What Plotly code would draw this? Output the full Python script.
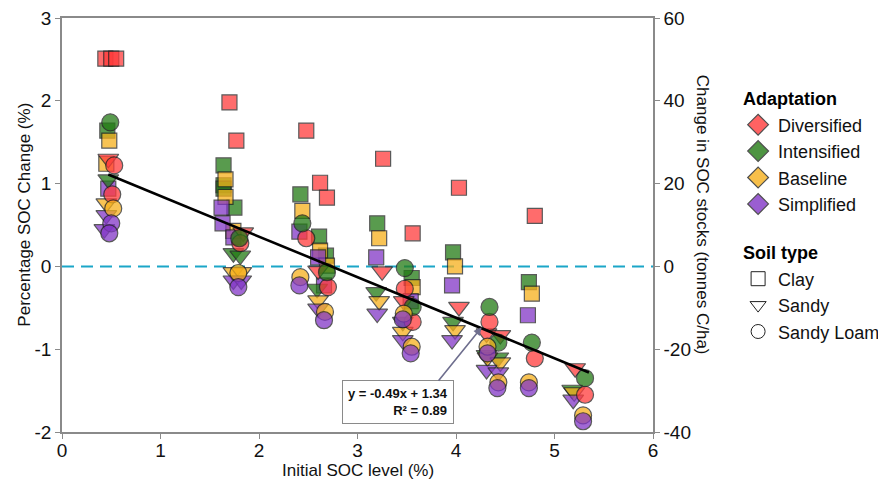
import numpy as np
import plotly.graph_objects as go

# ---- data: initial SOC (%) and percentage SOC change, by adaptation and soil type ----
div_clay_x = [0.44, 0.50, 0.55, 1.70, 1.77, 2.48, 2.62, 2.69, 3.26, 3.56, 4.03, 4.80]
div_clay_y = [2.51, 2.51, 2.51, 1.98, 1.52, 1.64, 1.01, 0.83, 1.30, 0.40, 0.95, 0.61]
div_sandy_x = [0.47, 1.84, 2.60, 3.25, 3.47, 4.03, 4.31, 4.45, 5.21]
div_sandy_y = [1.30, 0.41, -0.05, -0.06, -0.42, -0.49, -0.81, -0.83, -1.23]
div_loam_x = [0.53, 0.51, 1.81, 2.48, 2.70, 3.48, 3.56, 4.34, 4.80, 5.31]
div_loam_y = [1.22, 0.87, 0.28, 0.34, -0.25, -0.27, -0.67, -0.67, -1.11, -1.55]

int_clay_x = [0.46, 1.64, 1.64, 1.64, 1.75, 2.42, 2.61, 2.68, 3.20, 3.55, 3.97, 4.74]
int_clay_y = [1.64, 1.22, 0.98, 0.94, 0.71, 0.87, 0.36, 0.13, 0.52, -0.14, 0.17, -0.19]
int_sandy_x = [0.47, 1.74, 1.81, 2.59, 3.19, 3.46, 3.97, 4.31, 4.43, 5.18]
int_sandy_y = [1.05, 0.16, 0.13, -0.27, -0.31, -0.67, -0.67, -1.07, -1.10, -1.49]
int_loam_x = [0.49, 1.80, 2.44, 2.69, 3.48, 3.56, 4.34, 4.43, 4.77, 5.31]
int_loam_y = [1.74, 0.34, 0.52, -0.07, -0.02, -0.49, -0.49, -0.92, -0.92, -1.35]

base_clay_x = [0.48, 0.45, 1.66, 1.66, 1.74, 2.44, 2.62, 2.69, 3.22, 3.56, 3.99, 4.77]
base_clay_y = [1.52, 1.24, 1.05, 0.84, 0.43, 0.67, 0.19, 0.01, 0.34, -0.25, 0.00, -0.33]
base_sandy_x = [0.45, 1.74, 1.82, 2.60, 3.22, 3.46, 3.99, 4.32, 4.45, 5.20]
base_sandy_y = [0.76, -0.07, -0.07, -0.41, -0.42, -0.79, -0.77, -1.10, -1.16, -1.52]
base_loam_x = [0.52, 1.79, 2.42, 2.67, 3.47, 3.55, 4.32, 4.43, 4.74, 5.29]
base_loam_y = [0.70, -0.08, -0.13, -0.55, -0.57, -0.97, -0.97, -1.40, -1.40, -1.80]

simp_clay_x = [0.47, 1.62, 1.63, 1.74, 2.41, 2.60, 2.66, 3.19, 3.54, 3.96, 4.73]
simp_clay_y = [0.94, 0.71, 0.52, 0.35, 0.42, 0.11, -0.23, 0.11, -0.42, -0.23, -0.59]
simp_sandy_x = [0.45, 0.43, 1.74, 1.82, 2.60, 3.20, 3.46, 3.96, 4.31, 4.43, 5.19]
simp_sandy_y = [0.62, 0.45, -0.17, -0.17, -0.51, -0.57, -0.89, -0.89, -1.25, -1.28, -1.61]
simp_loam_x = [0.50, 0.48, 1.79, 2.41, 2.66, 3.46, 3.54, 4.32, 4.42, 4.74, 5.29]
simp_loam_y = [0.52, 0.40, -0.25, -0.23, -0.65, -0.64, -1.05, -1.05, -1.47, -1.47, -1.87]

adaptations = ["Diversified", "Intensified", "Baseline", "Simplified"]
soil_types = ["Clay", "Sandy", "Sandy Loam"]

x_ticks = [0, 1, 2, 3, 4, 5, 6]
y_ticks = [-2, -1, 0, 1, 2, 3]
y2_ticks = [-40, -20, 0, 20, 40, 60]

# linear fit reported on the chart
fit_slope = -0.49
fit_intercept = 1.34
fit_r2 = 0.89
fit_x_range = [0.47, 5.35]

# ---- styling ----
colors = {"Diversified": "#FF3B3B", "Intensified": "#227A14",
          "Baseline": "#F6B01C", "Simplified": "#8236C6"}
symbols = {"Clay": "square", "Sandy": "triangle-down", "Sandy Loam": "circle"}
sizes = {"Clay": 15, "Sandy": 18, "Sandy Loam": 17}
FONT = "Liberation Sans, Arial, sans-serif"
AXIS_GREY = "#8a8a8a"

series = {
    ("Diversified", "Clay"): (div_clay_x, div_clay_y),
    ("Diversified", "Sandy"): (div_sandy_x, div_sandy_y),
    ("Diversified", "Sandy Loam"): (div_loam_x, div_loam_y),
    ("Intensified", "Clay"): (int_clay_x, int_clay_y),
    ("Intensified", "Sandy"): (int_sandy_x, int_sandy_y),
    ("Intensified", "Sandy Loam"): (int_loam_x, int_loam_y),
    ("Baseline", "Clay"): (base_clay_x, base_clay_y),
    ("Baseline", "Sandy"): (base_sandy_x, base_sandy_y),
    ("Baseline", "Sandy Loam"): (base_loam_x, base_loam_y),
    ("Simplified", "Clay"): (simp_clay_x, simp_clay_y),
    ("Simplified", "Sandy"): (simp_sandy_x, simp_sandy_y),
    ("Simplified", "Sandy Loam"): (simp_loam_x, simp_loam_y),
}


def tick_text(vals):
    # plain hyphen-minus for negative labels
    return [str(v) for v in vals]


fig = go.Figure()

# zero reference line
fig.add_trace(go.Scatter(x=[0, 6], y=[0, 0], mode="lines",
                         line=dict(color="#1BA6C8", width=2, dash="12px,7px"),
                         showlegend=False, hoverinfo="skip"))

for soil in soil_types:
    for ad in adaptations:
        xs, ys = series[(ad, soil)]
        fig.add_trace(go.Scatter(
            x=xs, y=ys, mode="markers", showlegend=False,
            marker=dict(symbol=symbols[soil], size=sizes[soil], color=colors[ad],
                        opacity=0.75, line=dict(color="#222222", width=1.2)),
            name=f"{ad} – {soil}"))

# regression line
fx = np.array(fit_x_range)
fig.add_trace(go.Scatter(x=fx, y=fit_slope * fx + fit_intercept, mode="lines",
                         line=dict(color="black", width=2.6),
                         showlegend=False, hoverinfo="skip"))

# secondary axis carrier
fig.add_trace(go.Scatter(x=[None], y=[None], yaxis="y2", showlegend=False))

# legend entries
for i, ad in enumerate(adaptations):
    fig.add_trace(go.Scatter(
        x=[None], y=[None], mode="markers", name=ad,
        legendgroup="adapt",
        legendgrouptitle=dict(text="<b>Adaptation</b>", font=dict(size=18, color="black")) if i == 0 else None,
        marker=dict(symbol="diamond", size=16, color=colors[ad], opacity=0.8,
                    line=dict(color="#222222", width=1.2))))
for i, soil in enumerate(soil_types):
    fig.add_trace(go.Scatter(
        x=[None], y=[None], mode="markers", name=soil,
        legendgroup="soil",
        legendgrouptitle=dict(text="<b>Soil type</b>", font=dict(size=18, color="black")) if i == 0 else None,
        marker=dict(symbol=symbols[soil] + "-open", size=14, color="#222222",
                    line=dict(width=1))))

fig.add_annotation(x=3.41, y=-1.64, xref="x", yref="y", showarrow=False,
                   text=f"<b>y = {fit_slope}x + {fit_intercept}<br>R² = {fit_r2}</b>",
                   align="right", font=dict(size=13, color="#111111", family=FONT),
                   bgcolor="white", bordercolor="#8a8a8a", borderwidth=1, borderpad=5)
fig.add_annotation(x=4.26, y=-0.735, ax=3.81, ay=-1.40, xref="x", yref="y",
                   axref="x", ayref="y", text="", showarrow=True,
                   arrowhead=2, arrowsize=1, arrowwidth=1.6, arrowcolor="#6E6E8E")

# axis titles
fig.add_annotation(x=-0.0626, y=0.525, xref="paper", yref="paper", showarrow=False,
                   xanchor="center", yanchor="middle",
                   text="Percentage SOC Change (%)", textangle=-90,
                   font=dict(size=17, color="#111111", family=FONT))
fig.add_annotation(x=1.085, y=0.524, xref="paper", yref="paper", showarrow=False,
                   xanchor="center", yanchor="middle",
                   text="Change in SOC stocks (tonnes C/ha)", textangle=90,
                   font=dict(size=17, color="#111111", family=FONT))
fig.add_annotation(x=0.5, y=-0.094, xref="paper", yref="paper", showarrow=False,
                   xanchor="center", yanchor="middle",
                   text="Initial SOC level (%)",
                   font=dict(size=17, color="#111111", family=FONT))

axis_common = dict(showgrid=False, zeroline=False, showline=True, linecolor=AXIS_GREY,
                   linewidth=1.5, ticks="outside", ticklen=5, tickcolor=AXIS_GREY,
                   tickwidth=1.2, automargin=False,
                   tickfont=dict(size=19, color="#111111", family=FONT))

fig.update_layout(
    width=878, height=483,
    margin=dict(l=62, r=225, t=18, b=51, autoexpand=False),
    plot_bgcolor="white", paper_bgcolor="white",
    font=dict(family=FONT, color="#111111"),
    xaxis=dict(range=[0, 6], tickvals=x_ticks, ticktext=tick_text(x_ticks), mirror=True,
               ticklabelstandoff=-5, **axis_common),
    yaxis=dict(range=[-2, 3], tickvals=y_ticks, ticktext=tick_text(y_ticks), **axis_common),
    yaxis2=dict(range=[-40, 60], tickvals=y2_ticks, ticktext=tick_text(y2_ticks),
                overlaying="y", side="right", **axis_common),
    legend=dict(x=1.144, y=0.85, xanchor="left", yanchor="top",
                font=dict(size=18, color="#111111"), tracegroupgap=22,
                bgcolor="rgba(0,0,0,0)"),
)

fig.write_html("out.html")
